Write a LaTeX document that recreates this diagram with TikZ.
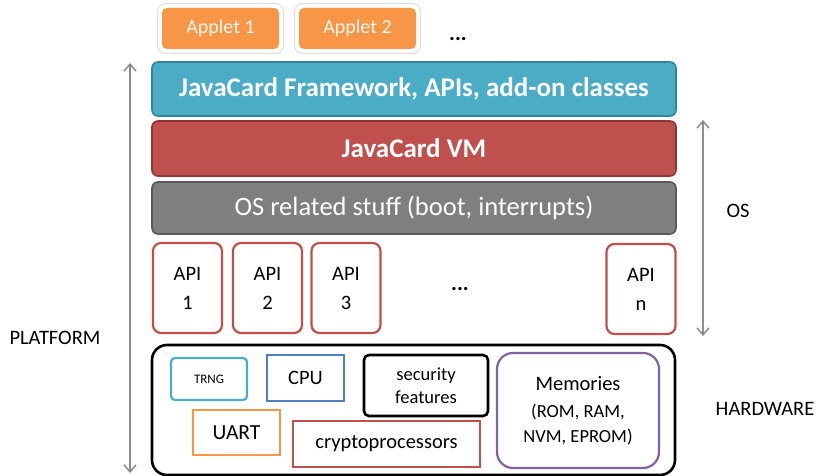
\documentclass[tikz,border=0pt]{standalone}
\usepackage{fontspec}
\setmainfont{Carlito}
\usetikzlibrary{arrows.meta}
\definecolor{orangeA}{HTML}{F79646}
\definecolor{tealA}{HTML}{4BACC6}
\definecolor{tealB}{HTML}{31849B}
\definecolor{redA}{HTML}{C0504D}
\definecolor{redB}{HTML}{8C3836}
\definecolor{grayA}{HTML}{7F7F7F}
\definecolor{grayB}{HTML}{595959}
\definecolor{blueA}{HTML}{4F81BD}
\definecolor{purpleA}{HTML}{8064A2}
\definecolor{arrowgray}{HTML}{8C8C8C}
\tikzset{
  layer/.style={rectangle, rounded corners=6pt, line width=1.6pt, minimum width=524pt, text=white, inner sep=0pt},
  appletrim/.style={rectangle, rounded corners=8pt, fill=white, draw=black!13, line width=1pt, minimum width=126pt, minimum height=50pt},
  applet/.style={rectangle, rounded corners=5pt, fill=orangeA, minimum width=117pt, minimum height=41pt, text=white!92!orangeA, font=\fontsize{20}{22}\selectfont},
  apibox/.style={rectangle, rounded corners=8pt, draw=redA, line width=2.2pt, minimum width=69pt, minimum height=90pt, align=center, font=\fontsize{20.5}{29}\selectfont},
  hwbox/.style={rectangle, line width=2.2pt, align=center, inner sep=0pt},
  sidearrow/.style={draw=arrowgray, line width=1.5pt, {Straight Barb[length=7pt,width=12pt]}-{Straight Barb[length=7pt,width=12pt]}},
  sidelabel/.style={font=\fontsize{20.5}{24}\selectfont},
  dots/.style={font=\bfseries\fontsize{22}{22}\selectfont}
}
\begin{document}
\begin{tikzpicture}[x=1pt,y=-1pt]
\useasboundingbox (0,0) rectangle (819,476);
% applets
\node[appletrim] (ap1r) at (220.5,28.5) {};
\node[appletrim] (ap2r) at (357.5,28.5) {};
\node[applet] (ap1) at (220.5,28.5) {Applet 1};
\node[applet] (ap2) at (357.5,28.5) {Applet 2};
\node[dots] (d1) at (458,39) {...};
% layers
\node[layer, fill=tealA, draw=tealB, minimum height=54pt, font=\bfseries\fontsize{27}{30}\selectfont] (fw) at (414,89) {JavaCard Framework, APIs, add-on classes};
\node[layer, fill=redA, draw=redB, minimum height=55pt, font=\bfseries\fontsize{27}{30}\selectfont] (vm) at (414,148.5) {JavaCard VM};
\node[layer, fill=grayA, draw=grayB, minimum height=52pt, font=\fontsize{26.5}{30}\selectfont] (os) at (414,208) {OS related stuff (boot, interrupts)};
% APIs
\node[apibox] (api1) at (187.5,288) {API\\1};
\node[apibox] (api2) at (267.5,288) {API\\2};
\node[apibox] (api3) at (346,288) {API\\3};
\node[apibox] (apin) at (641,289) {API\\n};
\node[dots] (d2) at (460,289) {...};
% hardware
\node[hwbox, draw=black, rounded corners=15pt, line width=2.6pt, minimum width=523pt, minimum height=130pt] (hw) at (413.5,410) {};
\node[hwbox, draw=tealA, rounded corners=4pt, minimum width=76pt, minimum height=42pt, font=\fontsize{13}{15}\selectfont] (trng) at (209,379) {TRNG};
\node[hwbox, draw=blueA, minimum width=77pt, minimum height=46pt, font=\fontsize{20.5}{23}\selectfont] (cpu) at (305.5,378) {CPU};
\node[hwbox, draw=black, rounded corners=5pt, line width=2.6pt, minimum width=124pt, minimum height=61pt, font=\fontsize{18.5}{23}\selectfont] (sec) at (426,385.5) {security\\features};
\node[hwbox, draw=purpleA, rounded corners=16pt, minimum width=162pt, minimum height=115pt, font=\fontsize{18.5}{25}\selectfont] (mem) at (578,410.5) {{\fontsize{20.5}{25}\selectfont Memories}\\[2pt](ROM, RAM,\\NVM, EPROM)};
\node[hwbox, draw=orangeA, minimum width=87pt, minimum height=45pt, font=\fontsize{21.5}{24}\selectfont] (uart) at (236.5,432.5) {UART};
\node[hwbox, draw=redA, minimum width=187pt, minimum height=46pt, font=\fontsize{20.5}{23}\selectfont] (crypto) at (386.5,444) {cryptoprocessors};
% side arrows
\coordinate (pt) at (130,63);
\coordinate (pb) at (130,473);
\coordinate (ot) at (703,120);
\coordinate (ob) at (703,336);
\draw[sidearrow] (pt) -- (pb);
\draw[sidearrow] (ot) -- (ob);
\node[sidelabel] (lplat) at (55,338) {PLATFORM};
\node[sidelabel] (los) at (738,211) {OS};
\node[sidelabel] (lhw) at (765,409) {HARDWARE};
\end{tikzpicture}
\end{document}
